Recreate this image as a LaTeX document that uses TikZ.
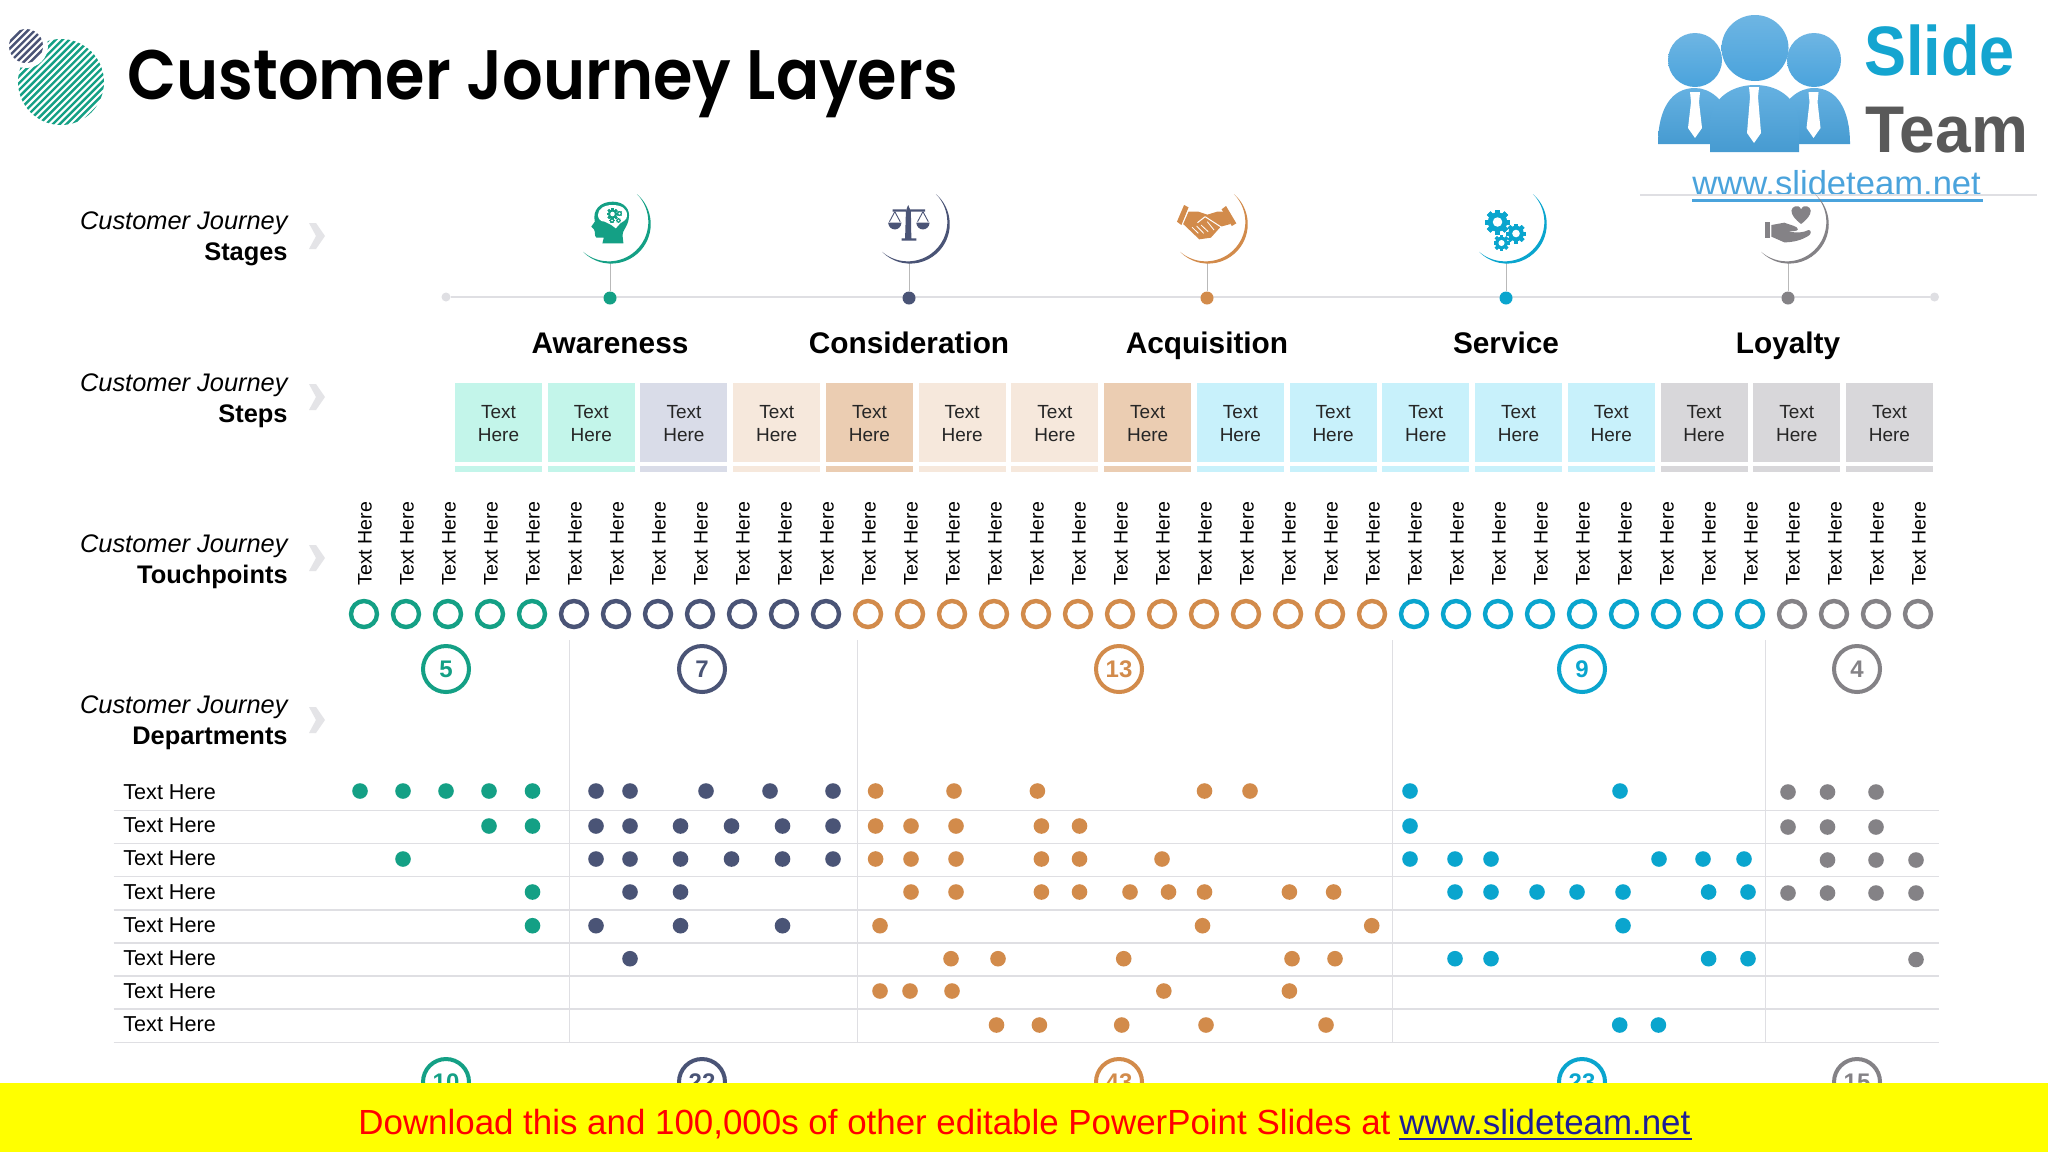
\documentclass[tikz,border=0pt]{standalone}
\usepackage{fontspec}
\usepackage{graphicx}
\setmainfont{Liberation Sans}
\newfontfamily\titlefont{Poppins SemiBold}
\definecolor{cgreen}{HTML}{14A085}
\definecolor{cnavy}{HTML}{4A5476}
\definecolor{corange}{HTML}{D28B4B}
\definecolor{cblue}{HTML}{0AA5CE}
\definecolor{cgray}{HTML}{848286}
\definecolor{bgreen}{HTML}{C3F5EA}
\definecolor{bnavy}{HTML}{D9DCE8}
\definecolor{borange}{HTML}{F6E8DC}
\definecolor{bdark}{HTML}{EBCDB2}
\definecolor{bblue}{HTML}{C8F1FB}
\definecolor{bgray}{HTML}{D8D7DA}
\definecolor{rule}{HTML}{DFDFE3}
\definecolor{logoblue}{HTML}{4AA3DC}
\definecolor{linkcol}{HTML}{1E1E96}
\definecolor{banner}{RGB}{255,255,0}
\definecolor{bannertext}{RGB}{255,0,0}
\usetikzlibrary{calc}
\tikzset{
  lab/.style={anchor=base east,inner sep=0pt,font=\fontsize{12.7}{12.7}\selectfont},
  chev/.style={fill=rule!85!white,draw=none},
  stagename/.style={anchor=base,inner sep=0pt,font=\fontsize{14.9}{14.9}\selectfont\bfseries},
  stepbox/.style={minimum width=43.5pt,minimum height=39.5pt,inner sep=0pt,align=center,text=black!85,font=\fontsize{9.5}{11.5}\selectfont},
  touch/.style={rotate=90,anchor=base west,inner sep=0pt,font=\fontsize{9.8}{9.8}\selectfont},
  ring/.style={circle,draw,line width=2.2pt,minimum size=13pt,inner sep=0pt},
  bigring/.style={circle,draw,line width=2pt,minimum size=23pt,inner sep=0pt,font=\fontsize{12}{12}\selectfont\bfseries},
  rowtext/.style={anchor=base west,inner sep=0pt,font=\fontsize{10.8}{10.8}\selectfont},
  hline/.style={draw=rule,line width=.75pt},
  vline/.style={draw=rule,line width=.5pt},
  stagedot/.style={circle,minimum size=6.5pt,inner sep=0pt},
  stem/.style={draw=gray!55,line width=.5pt}
}
% gear in page pixels
\newcommand{\mygear}[4]{%
  \fill[#4] (#1,#2) circle[radius=.78*#3];
  \foreach \ga in {0,45,...,315}{\fill[#4,rotate around={\ga:(#1,#2)}] ($(#1,#2)+(-.2*#3,-#3)$) rectangle ($(#1,#2)+(.2*#3,#3)$);}
  \fill[white] (#1,#2) circle[radius=.38*#3];}
% crescent
\newcommand{\mycres}[3]{%
  \fill[#3] ($(#1,#2)+(-47:39.5)$) arc[start angle=-49.4,end angle=135.4,radius=39.5]
     arc[start angle=130.6,end angle=-44.6,radius=39.5] -- cycle;}
\begin{document}
\begin{tikzpicture}[x=0.5pt,y=-0.5pt]
\useasboundingbox (0,0) rectangle (2048,1152);
\fill[white] (0,0) rectangle (2048,1152);

% --- title mark
\begin{scope}
\clip (61,82) circle[radius=43];
\foreach \k in {-14,...,14}{\draw[cgreen,line width=1.2pt] ($(61,82)+(\k*6.8,0)+(-60,60)$) -- ++(120,-120);}
\end{scope}
\fill[white] (26,46) circle[radius=22];
\begin{scope}
\clip (26,46) circle[radius=17];
\foreach \k in {-7,...,7}{\draw[cnavy,line width=1.2pt] ($(26,46)+(\k*6.8,0)+(-30,30)$) -- ++(60,-60);}
\end{scope}
\node[anchor=base west,inner sep=0pt] (title) at (127,99) {\scalebox{.912}[1]{\titlefont\fontsize{35}{35}\selectfont Customer Journey Layers}};

% --- logo
\shade[top color=logoblue!85!white,bottom color=logoblue!95!black] (1658,144) .. controls (1658,108) and (1672,88) .. (1695,88) .. controls (1710,88) and (1725,100) .. (1730,120) -- (1730,144) -- cycle;
\shade[top color=logoblue!85!white,bottom color=logoblue!95!black] (1850,144) .. controls (1850,108) and (1836,88) .. (1814,88) .. controls (1798,88) and (1784,100) .. (1778,120) -- (1778,144) -- cycle;
\shade[top color=logoblue!85!white,bottom color=logoblue!95!black] (1710,152) -- (1710,125) .. controls (1710,100) and (1730,85) .. (1755,85) .. controls (1780,85) and (1799,100) .. (1799,125) -- (1799,152) -- cycle;
\shade[top color=logoblue!80!white,bottom color=logoblue] (1695,60) ellipse[x radius=27,y radius=27];
\shade[top color=logoblue!80!white,bottom color=logoblue] (1814,60) ellipse[x radius=27,y radius=27];
\shade[top color=logoblue!80!white,bottom color=logoblue] (1755,48) ellipse[x radius=33.5,y radius=33];
\foreach \tx/\ty/\tb in {1695/92/138,1813.5/92/138,1754/87/143}{
  \fill[white] (\tx-5,\ty) -- (\tx+5,\ty) -- (\tx+4,\ty+10) -- (\tx+7,\tb-10) -- (\tx,\tb) -- (\tx-7,\tb-10) -- (\tx-4,\ty+10) -- cycle;}
\node[anchor=base west,inner sep=0pt,text=cblue!85!logoblue] (slide) at (1864,75) {\scalebox{.9}[1]{\fontsize{35}{35}\selectfont\bfseries Slide}};
\node[anchor=base west,inner sep=0pt,text=black!65] (team) at (1865,152) {\scalebox{.97}[1]{\fontsize{33}{33}\selectfont\bfseries Team}};
\node[anchor=base west,inner sep=0pt,text=logoblue] (url) at (1692,195) {\fontsize{17.3}{17.3}\selectfont www.slideteam.net};
\fill[logoblue] (1692,199) rectangle (1983,202);
\draw[rule,line width=.6pt] (1640,195) -- (2037,195);

% --- side labels
\foreach \n/\w/\y/\cy in {st/Stages/221/236,sp/Steps/383/397,tp/Touchpoints/544/558,dp/Departments/705/720}{
  \node[lab] (lab\n a) at (288,\y+8.7) {\itshape Customer Journey};
  \node[lab] (lab\n b) at (288,\y+39.7) {\bfseries \w};
  \fill[chev] (309,\cy-13) -- (316,\cy-13) -- (325,\cy) -- (316,\cy+13) -- (309,\cy+13) -- (316,\cy) -- cycle;
}

% --- timeline
\node[circle,fill=rule,minimum size=4.5pt,inner sep=0pt] (tl) at (446,297) {};
\node[circle,fill=rule,minimum size=4.5pt,inner sep=0pt] (tr) at (1934.5,297) {};
\draw[rule,line width=1.4pt] (tl) -- (tr);
\foreach \i/\x/\c/\nm in {1/610/cgreen/Awareness,2/909/cnavy/Consideration,3/1207/corange/Acquisition,4/1506/cblue/Service,5/1788/cgray/Loyalty}{
  \coordinate (top\i) at (\x,262);
  \node[stagedot,fill=\c] (sd\i) at (\x,298) {};
  \draw[stem] (sd\i) -- (top\i);
  \mycres{\x}{223}{\c}
  \node[stagename] (sn\i) at (\x,353) {\nm};
}

% head icon
\begin{scope}[shift={(560,170)},x=0.2232pt,y=-0.16667pt]
\fill[cgreen] (95,220) -- (98,203) -- (82,203) .. controls (76,200) and (80,185) .. (76,178) -- (70,170) -- (78,155) .. controls (72,120) and (90,95) .. (118,95) .. controls (145,95) and (158,120) .. (154,145) .. controls (152,170) and (140,180) .. (140,195) -- (142,220) -- cycle;
\fill[white] (85,135) .. controls (85,115) and (100,105) .. (118,105) .. controls (135,105) and (152,115) .. (150,138) .. controls (150,150) and (140,155) .. (135,160) -- (125,175) -- (115,165) -- (100,155) .. controls (90,155) and (85,145) .. (85,135) -- cycle;
\end{scope}
\mygear{612.5}{214}{6}{cgreen}
\mygear{619.5}{213.5}{2.8}{cgreen}
\mygear{612}{220.5}{2.6}{cgreen}
\mygear{618.5}{220.5}{2.4}{cgreen}

% scales icon
\begin{scope}[shift={(560,170)},x=0.2232pt,y=-0.16667pt,cnavy]
\fill (773,205) -- (775,118) -- (745,118) -- (745,125) -- (775,125) -- (776,118) -- (780,105) -- (784,118) -- (818,118) -- (818,125) -- (786,125) -- (787,205) -- (798,205) -- (798,212) -- (765,212) -- (765,205) -- cycle;
\foreach \px in {750,813}{
  \draw[line width=.45pt] (\px,125) -- (\px-12,155) (\px,125) -- (\px+12,155);
  \fill (\px-15,158) -- (\px+15,158) .. controls (\px+13,185) and (\px-13,185) .. (\px-15,158) -- cycle;
}
\end{scope}

% handshake icon
\begin{scope}[shift={(560,170)},x=0.2232pt,y=-0.16667pt,corange]
\fill (1398,105) -- (1408,112) -- (1392,165) -- (1382,155) -- cycle;
\fill (1492,108) -- (1515,160) -- (1505,168) -- (1482,118) -- cycle;
\fill (1408,125) -- (1430,125) -- (1450,134) -- (1472,125) -- (1488,125) -- (1502,162) -- (1480,170) -- (1458,203) -- (1432,208) -- (1396,162) -- cycle;
\draw[white,line width=.5pt,line join=round] (1428,158) -- (1445,140) -- (1482,172);
\draw[white,line width=.4pt] (1416,172) -- (1430,190) (1426,168) -- (1442,190) (1436,165) -- (1452,185) (1450,155) -- (1465,180);
\end{scope}

% gears icon
\mygear{1497.5}{222}{12.5}{cblue}
\mygear{1516}{233.5}{10}{cblue}
\mygear{1501.5}{243}{8}{cblue}

% heart-hand icon
\begin{scope}[shift={(1420,170)},x=0.17857pt,y=-0.16667pt,cgray]
\fill (1067,162) .. controls (1050,148) and (1040,135) .. (1040,122) .. controls (1040,110) and (1060,100) .. (1067,118) .. controls (1074,100) and (1094,110) .. (1094,122) .. controls (1094,135) and (1084,148) .. (1067,162) -- cycle;
\fill (965,157) rectangle (979,203);
\fill (984,165) -- (1020,158) .. controls (1035,165) and (1058,168) .. (1058,178) .. controls (1058,184) and (1040,184) .. (1030,183) .. controls (1050,190) and (1075,188) .. (1088,180) .. controls (1096,180) and (1096,192) .. (1088,197) .. controls (1070,210) and (1045,217) .. (1020,217) -- (984,200) -- cycle;
\end{scope}

% --- step boxes
\foreach \i/\c in {0/bgreen,1/bgreen,2/bnavy,3/borange,4/bdark,5/borange,6/borange,7/bdark,8/bblue,9/bblue,10/bblue,11/bblue,12/bblue,13/bgray,14/bgray,15/bgray}{
  \pgfmathsetmacro{\bx}{498.5+92.73*\i}
  \fill[\c] (\bx-43.5,383) rectangle (\bx+43.5,462);
  \node[stepbox] (box\i) at (\bx,423.8) {Text\\Here};
  \fill[\c] (\bx-43.5,466) rectangle (\bx+43.5,472);
}

% --- touchpoints
\foreach \i in {0,...,37}{
  \pgfmathsetmacro{\tx}{364+42*\i}
  \pgfmathtruncatemacro{\cls}{\i<5?1:(\i<12?2:(\i<25?3:(\i<34?4:5)))}
  \ifcase\cls\or\def\cc{cgreen}\or\def\cc{cnavy}\or\def\cc{corange}\or\def\cc{cblue}\or\def\cc{cgray}\fi
  \node[touch] (tt\i) at (\tx+7.5,586) {Text Here};
  \node[ring,draw=\cc] (tc\i) at (\tx,614) {};
}

% --- department table
\foreach \i in {0,...,7}{
  \pgfmathsetmacro{\ly}{810.3+33.15*\i}
  \pgfmathsetmacro{\ty}{799.6+33.15*\i}
  \draw[hline] (113.5,\ly) -- (1938.5,\ly);
  \node[rowtext] (rt\i) at (123,\ty) {Text Here};
}
\foreach \x in {569.5,857,1392,1765}{\draw[vline] (\x,640) -- (\x,1043);}

% --- count circles
\foreach \n/\x/\c/\a/\b in {a/446/cgreen/5/10,b/702/cnavy/7/22,c/1119/corange/13/43,d/1582/cblue/9/23,e/1857/cgray/4/15}{
  \node[bigring,draw=\c,text=\c] (top\n) at (\x,669) {\a};
  \node[bigring,draw=\c,text=\c] (bot\n) at (\x,1082) {\b};
}

% --- dots
\foreach \y/\c/\xs in {
 791/cgreen/{360,403,446,489,532.5},
 791/cnavy/{596,630,706,770,833},
 791/corange/{875.6,954,1037.4,1204.5,1250},
 791/cblue/{1410,1620},
 792/cgray/{1788,1827.5,1876},
 826/cgreen/{489,532.5},
 826/cnavy/{596,630,680.5,731.5,782.5,833},
 826/corange/{875.6,911,956,1041.4,1079.5},
 826/cblue/{1410},
 827/cgray/{1788,1827.5,1876},
 859/cgreen/{403},
 859/cnavy/{596,630,680.5,731.5,782.5,833},
 859/corange/{875.6,911,956,1041.4,1079.5,1162},
 859/cblue/{1410,1455,1491,1659,1703,1744},
 860/cgray/{1827.5,1876,1916},
 892/cgreen/{532.5},
 892/cnavy/{630,680.5},
 892/corange/{911,956,1041.4,1079.5,1130,1168.5,1204.5,1289.4,1333.6},
 892/cblue/{1455,1491,1537,1577,1623,1708.6,1748},
 893/cgray/{1788,1827.5,1876,1916},
 925.7/cgreen/{532.5},
 925.7/cnavy/{596,680.5,782.5},
 925.7/corange/{880,1202.5,1371.7},
 925.7/cblue/{1623},
 958.7/cnavy/{630},
 958.7/corange/{951,998,1123.7,1292,1335},
 958.7/cblue/{1455,1491,1708.6,1748},
 959.5/cgray/{1916},
 991/corange/{880,910,952,1163.8,1289.4},
 1025/corange/{996.5,1039.4,1121.7,1206,1326},
 1025/cblue/{1619.7,1658.4}}{
  \foreach \x in \xs {\fill[\c] (\x,\y) circle[radius=7.8];}
}

% --- footer
\fill[banner] (0,1083) rectangle (2048,1152);
\node[anchor=base west,inner sep=0pt,text=bannertext] (dl) at (358,1134.5) {\fontsize{17.45}{17.45}\selectfont Download this and 100,000s of other editable PowerPoint Slides at};
\node[anchor=base west,inner sep=0pt,text=linkcol] (dlurl) at (1399,1134.5) {\fontsize{17.45}{17.45}\selectfont www.slideteam.net};
\fill[linkcol] (1399,1138) rectangle (1692,1140);
\end{tikzpicture}
\end{document}
